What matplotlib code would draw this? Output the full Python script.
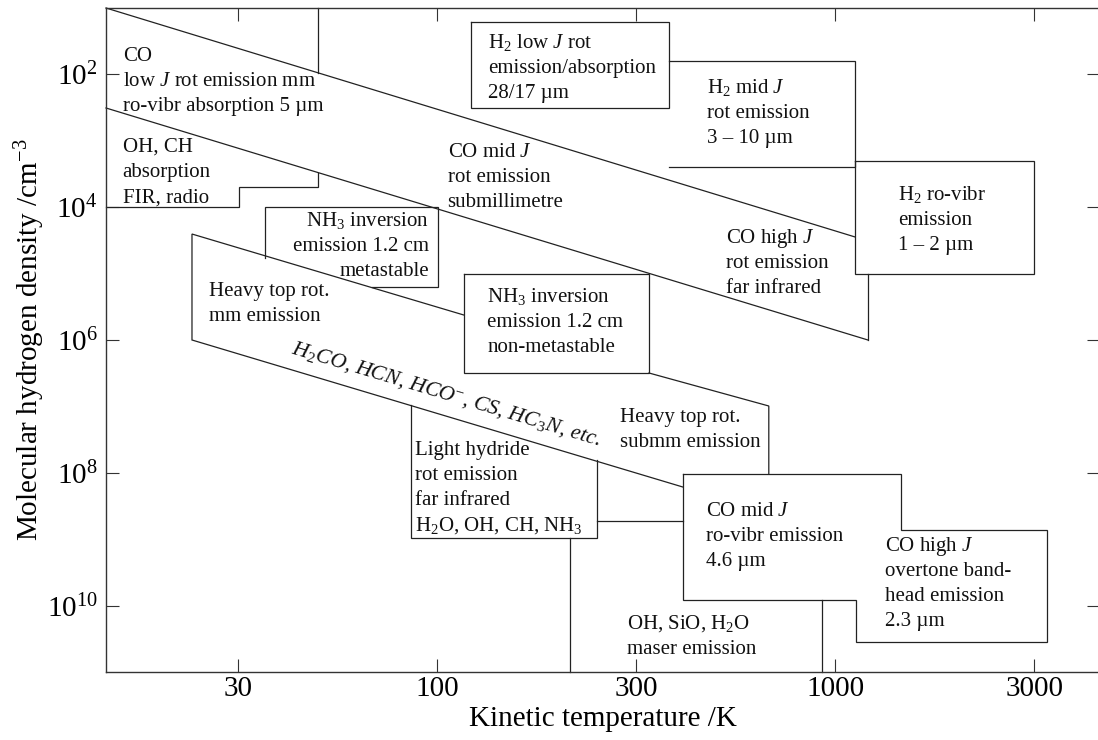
import numpy as np
import matplotlib
matplotlib.use('Agg')
import matplotlib.pyplot as plt
from matplotlib.ticker import NullLocator

# Times-like serif for text and math
plt.rcParams['font.family'] = ['Liberation Serif', 'DejaVu Serif']
plt.rcParams['mathtext.fontset'] = 'custom'
plt.rcParams['mathtext.rm'] = 'Liberation Serif'
plt.rcParams['mathtext.it'] = 'Liberation Serif:italic'
plt.rcParams['mathtext.bf'] = 'Liberation Serif:bold'

# 1. data (log10 T /K, log10 n /cm^-3)
logT_lim = [1.168, 3.665]
logn_lim = [1.0, 11.0]

xtick_pos = [1.5, 2.0, 2.5, 3.0, 3.5]
xtick_lab = ['30', '100', '300', '1000', '3000']
ytick_pos = [2, 4, 6, 8, 10]

# region boundaries, polylines of (log10 T, log10 n)
co_low_upper = [(1.168, 1.0), (3.050, 4.449)]
co_low_step = [(1.701, 1.0), (1.701, 1.979)]
co_mid_lower = [(1.168, 2.506), (3.082, 6.0)]
oh_ch_step = [(1.701, 3.485), (1.701, 3.696), (1.501, 3.696), (1.501, 4.002), (1.168, 4.002)]
nh3_meta = [(1.567, 4.765), (1.567, 4.002), (2.001, 4.002), (2.001, 5.202), (1.836, 5.202)]
heavy_top = [(2.067, 5.624), (1.384, 4.404), (1.384, 6.0), (2.617, 8.214)]
nh3_nonmeta = [(2.067, 5.006), (2.532, 5.006), (2.532, 6.497), (2.067, 6.497), (2.067, 5.006)]
submm = [(2.532, 6.497), (2.833, 6.994), (2.833, 8.018)]
light_hydride = [(1.934, 6.979), (1.934, 8.982), (2.401, 8.982), (2.401, 7.807)]
hydride_link = [(2.401, 8.726), (2.617, 8.726)]
maser_left = [(2.333, 8.982), (2.333, 11.0)]
co_rovib = [(2.617, 8.018), (3.165, 8.018), (3.165, 8.861), (3.532, 8.861), (3.532, 10.541),
            (3.052, 10.541), (3.052, 9.916), (2.617, 9.916), (2.617, 8.018)]
maser_right = [(2.967, 9.916), (2.967, 11.0)]
h2_low = [(2.084, 1.206), (2.582, 1.206), (2.582, 2.502), (2.084, 2.502), (2.084, 1.206)]
h2_mid = [(2.582, 1.803), (3.050, 1.803), (3.050, 3.395), (2.582, 3.395)]
h2_rovib = [(3.050, 3.304), (3.499, 3.304), (3.499, 5.006), (3.050, 5.006), (3.050, 3.304)]
rovib_link = [(3.082, 5.006), (3.082, 6.0)]

boundaries = [co_low_upper, co_low_step, co_mid_lower, oh_ch_step, nh3_meta, heavy_top,
              nh3_nonmeta, submm, light_hydride, hydride_link, maser_left, co_rovib,
              maser_right, h2_low, h2_mid, h2_rovib, rovib_link]

# region labels: (log10 T, log10 n of first baseline, lines, alignment)
labels = [
    (1.210, 1.798, ['CO', 'low $J$ rot emission mm', 'ro-vibr absorption 5 µm'], 'left'),
    (1.210, 3.169, ['OH, CH', 'absorption', 'FIR, radio'], 'left'),
    (2.127, 1.602, ['H$_2$ low $J$ rot', 'emission/absorption', '28/17 µm'], 'left'),
    (2.677, 2.280, ['H$_2$ mid $J$', 'rot emission', '3 – 10 µm'], 'left'),
    (2.026, 3.240, ['CO mid $J$', 'rot emission', 'submillimetre'], 'left'),
    (3.158, 3.892, ['H$_2$ ro-vibr', 'emission', '1 – 2 µm'], 'left'),
    (2.725, 4.535, ['CO high $J$', 'rot emission', 'far infrared'], 'left'),
    (1.979, 4.283, ['NH$_3$ inversion', 'emission 1.2 cm', 'metastable'], 'right'),
    (1.426, 5.337, ['Heavy top rot.', 'mm emission'], 'left'),
    (2.126, 5.423, ['NH$_3$ inversion', 'emission 1.2 cm', 'non-metastable'], 'left'),
    (2.459, 7.230, ['Heavy top rot.', 'submm emission'], 'left'),
    (1.944, 7.732, ['Light hydride', 'rot emission', 'far infrared', 'H$_2$O, OH, CH, NH$_3$'], 'left'),
    (2.675, 8.645, ['CO mid $J$', 'ro-vibr emission', '4.6 µm'], 'left'),
    (3.126, 9.172, ['CO high $J$', 'overtone band-', 'head emission', '2.3 µm'], 'left'),
    (2.477, 10.352, ['OH, SiO, H$_2$O', 'maser emission'], 'left'),
]
line_step = 0.377  # baseline to baseline, in log10 n

molecules = 'H$_2$CO, HCN, HCO$^{-}$, CS, HC$_3$N, etc.'
molecules_pos = (1.632, 6.196)

# 2. figure
fig = plt.figure(figsize=(10.98, 7.40), dpi=100)
ax = fig.add_axes([106 / 1098, 68 / 740, 994 / 1098, 664 / 740])
ax.set_xscale('log')
ax.set_yscale('log')

for seg in boundaries:
    seg = np.array(seg)
    ax.plot(10 ** seg[:, 0], 10 ** seg[:, 1], color='#222222', lw=0.9,
            solid_joinstyle='miter', clip_on=False)

for lt, ln, lines, ha in labels:
    for i, s in enumerate(lines):
        ax.text(10 ** lt, 10 ** (ln + i * line_step), s, fontsize=15,
                ha=ha, va='baseline', color='#111111')

ax.text(10 ** molecules_pos[0], 10 ** molecules_pos[1], molecules, fontsize=15.8,
        style='italic', rotation=-16.7, rotation_mode='anchor',
        ha='left', va='baseline', color='#111111')

# 3. axes
ax.set_xlim(10 ** logT_lim[0], 10 ** logT_lim[1])
ax.set_ylim(10 ** logn_lim[1], 10 ** logn_lim[0])
ax.set_xticks(10.0 ** np.array(xtick_pos))
ax.set_xticklabels(xtick_lab)
ax.set_yticks(10.0 ** np.array(ytick_pos))
ax.set_yticklabels(['$10^{%d}$' % p for p in ytick_pos])
ax.xaxis.set_minor_locator(NullLocator())
ax.yaxis.set_minor_locator(NullLocator())
ax.tick_params(direction='in', length=9.4, width=0.8, color='#333333',
               top=True, right=True, labelsize=21)
ax.tick_params(axis='x', pad=3)
ax.tick_params(axis='y', pad=6)
for side in ['left', 'top', 'bottom']:
    ax.spines[side].set_linewidth(1.0)
    ax.spines[side].set_color('#333333')
ax.spines['right'].set_visible(False)

ax.set_xlabel('Kinetic temperature /K', fontsize=21, labelpad=3)
ax.set_ylabel('Molecular hydrogen density /cm$^{-3}$', fontsize=21, labelpad=0)

fig.savefig('out.png', dpi=100)
